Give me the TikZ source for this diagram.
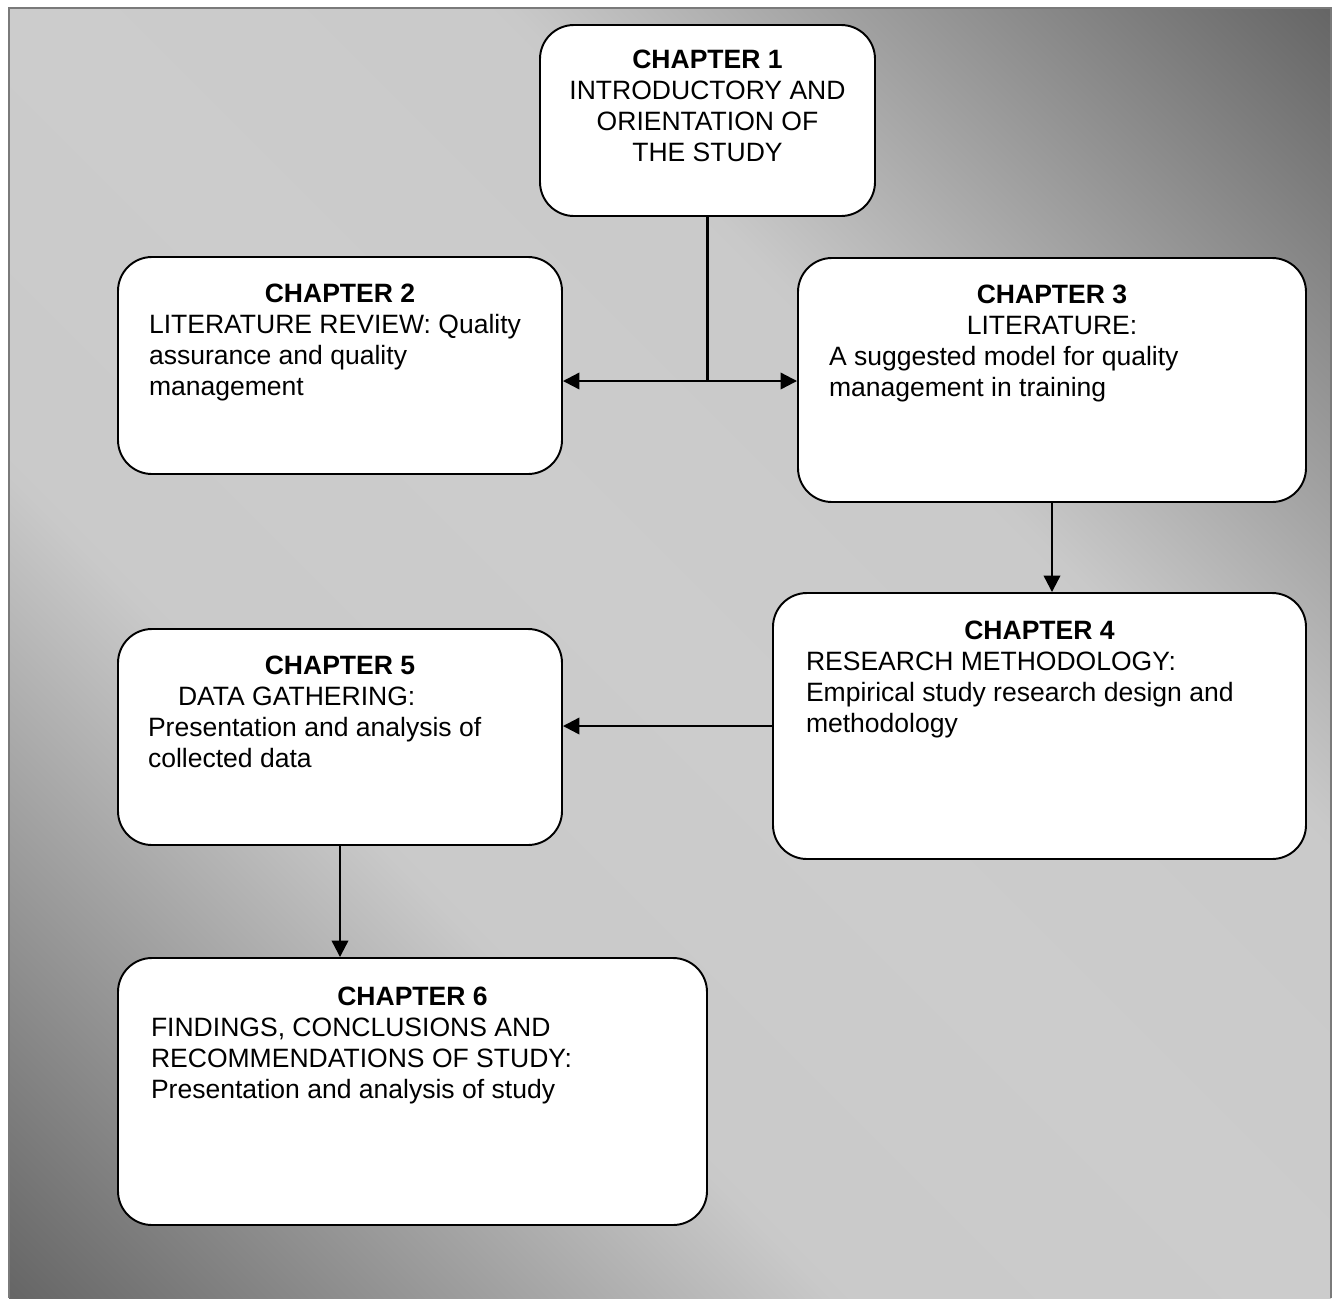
\documentclass[tikz,border=0pt]{standalone}
\usepackage{fontspec}
\setmainfont{Liberation Sans}
\usetikzlibrary{arrows.meta}
\newlength\pxu
\setlength\pxu{0.02cm}
\definecolor{bgdark}{gray}{0.40}
\definecolor{bgmid}{gray}{0.79}
\definecolor{bglight}{gray}{0.80}
\pgfdeclarehorizontalshading{bgshade}{100bp}{%
  color(0bp)=(bgdark); color(14.6bp)=(bgdark); color(37bp)=(bgmid);
  color(50bp)=(bglight); color(63bp)=(bgmid); color(85.4bp)=(bgdark);
  color(100bp)=(bgdark)}

\begin{document}
\begin{tikzpicture}[x=0.02cm, y=-0.02cm,
  chbox/.style={draw, line width=1.1pt, fill=white, rounded corners=0.68cm,
    inner xsep=31\pxu, inner ysep=27\pxu, font=\fontsize{15.1}{17.6}\selectfont},
  flow/.style={line width=1.3pt, -{Triangle[length=0.33cm,width=0.33cm]}}]
  \useasboundingbox (0,0) rectangle (1340,1299);
  \shade[shading=bgshade, shading angle=45] (9,8) rectangle (1331,1298);
  \draw[line width=1.2pt, black!52] (9,1298) -- (9,8) -- (1331,8) -- (1331,1298);

  \node[chbox, inner xsep=20\pxu, inner ysep=25\pxu] (c1) at (707.5,120.5)
    {\parbox[c][141\pxu][t]{295\pxu}{\centering\textbf{CHAPTER 1}\\
      INTRODUCTORY AND\\ORIENTATION OF\\THE STUDY}};
  \node[chbox] (c2) at (340,365.5)
    {\parbox[c][163\pxu][t]{382\pxu}{{\centering\textbf{CHAPTER 2}\par}
      LITERATURE REVIEW: Quality\\assurance and quality\\management}};
  \node[chbox] (c3) at (1052,380)
    {\parbox[c][190\pxu][t]{446\pxu}{{\centering\textbf{CHAPTER 3}\\LITERATURE:\par}
      A suggested model for quality\\management in training}};
  \node[chbox, inner xsep=33\pxu, inner ysep=28\pxu] (c4) at (1039.5,726)
    {\parbox[c][210\pxu][t]{467\pxu}{{\centering\textbf{CHAPTER 4}\par}
      RESEARCH METHODOLOGY:\\Empirical study research design and\\methodology}};
  \node[chbox, inner xsep=30\pxu] (c5) at (340,737)
    {\parbox[c][162\pxu][t]{384\pxu}{{\centering\textbf{CHAPTER 5}\par}
      \hspace*{30\pxu}DATA GATHERING:\\Presentation and analysis of\\collected data}};
  \node[chbox, inner xsep=33\pxu, inner ysep=29\pxu] (c6) at (412.5,1091.5)
    {\parbox[c][209\pxu][t]{523\pxu}{{\centering\textbf{CHAPTER 6}\par}
      FINDINGS, CONCLUSIONS AND\\RECOMMENDATIONS OF STUDY:\\Presentation and analysis of study}};

  \coordinate (split) at (707.5,381);
  \draw[line width=1.3pt] (c1.south) -- (split);
  \draw[flow] (split) -- (c2.east |- split);
  \draw[flow] (split) -- (c3.west |- split);
  \draw[flow] (c3.south) -- (c3.south |- c4.north);
  \draw[flow] (c4.west) -- (c5.east |- c4.west);
  \draw[flow] (c5.south) -- (c5.south |- c6.north);
\end{tikzpicture}
\end{document}
